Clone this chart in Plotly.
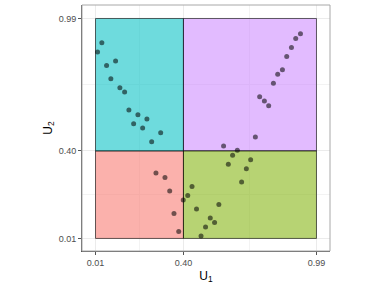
import plotly.graph_objects as go

# pseudo-observations
u1 = [0.019, 0.038, 0.059, 0.078, 0.099, 0.118, 0.139, 0.158, 0.179, 0.198,
      0.219, 0.238, 0.259, 0.278, 0.299, 0.318, 0.339, 0.358, 0.379, 0.399,
      0.419, 0.438, 0.458, 0.478, 0.498, 0.519, 0.538, 0.557, 0.578, 0.599,
      0.618, 0.639, 0.658, 0.679, 0.698, 0.719, 0.738, 0.759, 0.778, 0.799,
      0.818, 0.839, 0.858, 0.879, 0.898, 0.919]
u2 = [0.841, 0.882, 0.781, 0.721, 0.801, 0.681, 0.662, 0.582, 0.521, 0.561,
      0.502, 0.542, 0.441, 0.301, 0.481, 0.281, 0.221, 0.121, 0.041, 0.181,
      0.201, 0.241, 0.141, 0.021, 0.061, 0.101, 0.081, 0.161, 0.422, 0.341,
      0.381, 0.403, 0.261, 0.321, 0.361, 0.462, 0.641, 0.622, 0.601, 0.701,
      0.741, 0.761, 0.821, 0.861, 0.901, 0.922]

breaks = [0.01, 0.40, 0.99]
tick_labels = ["0.01", "0.40", "0.99"]
minor_breaks = [0.205, 0.695]

# region rectangles
regions_x0 = [0.01, 0.01, 0.40, 0.40]
regions_x1 = [0.40, 0.40, 0.99, 0.99]
regions_y0 = [0.01, 0.40, 0.40, 0.01]
regions_y1 = [0.40, 0.99, 0.99, 0.40]
regions_col = ["rgba(248,118,109,0.57)", "rgba(0,191,196,0.57)",
               "rgba(199,124,255,0.52)", "rgba(124,174,0,0.55)"]

fig = go.Figure()

shapes = []
for x0, x1, y0, y1, c in zip(regions_x0, regions_x1, regions_y0, regions_y1, regions_col):
    shapes.append(dict(type="rect", xref="x", yref="y", x0=x0, x1=x1, y0=y0, y1=y1,
                       fillcolor=c, line=dict(color="rgba(0,0,0,0.6)", width=1),
                       layer="between"))
# panel border
shapes.append(dict(type="rect", xref="paper", yref="paper", x0=0, x1=1, y0=0, y1=1,
                   line=dict(color="#A8A8A8", width=1), fillcolor="rgba(0,0,0,0)",
                   layer="above"))

fig.add_trace(go.Scatter(x=u1, y=u2, mode="markers",
                         marker=dict(color="rgba(0,0,0,0.55)", size=5, line=dict(width=0)),
                         showlegend=False, hoverinfo="x+y"))

axis_common = dict(
    tickvals=breaks, ticktext=tick_labels,
    showgrid=True, gridcolor="#EBEBEB", gridwidth=1,
    minor=dict(tickvals=minor_breaks, showgrid=True, gridcolor="#F3F3F3", gridwidth=0.6),
    zeroline=False, showline=True, linecolor="#555555", linewidth=1,
    ticks="outside", ticklen=3, tickcolor="#555555", tickwidth=1,
    tickfont=dict(family="Liberation Sans, Arial, sans-serif", size=9, color="#4D4D4D"),
)

fig.update_layout(
    width=375, height=286,
    margin=dict(l=82, r=45, t=5, b=35),
    paper_bgcolor="white", plot_bgcolor="white",
    shapes=shapes,
    xaxis=dict(range=[-0.05, 1.05], title=dict(text="U<sub>1</sub>", standoff=4,
               font=dict(family="Liberation Sans, Arial, sans-serif", size=12, color="black")),
               **axis_common),
    yaxis=dict(range=[-0.046, 1.05], title=dict(text="U<sub>2</sub>", standoff=3,
               font=dict(family="Liberation Sans, Arial, sans-serif", size=12, color="black")),
               **axis_common),
)

fig.write_html("out.html", config={"displayModeBar": False},
               post_script="document.body.style.margin='0';")
